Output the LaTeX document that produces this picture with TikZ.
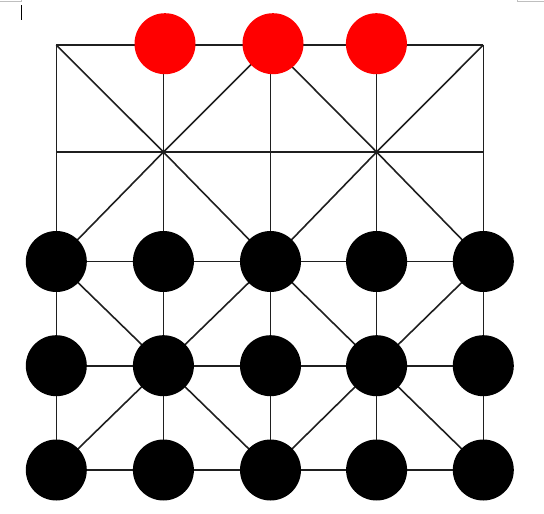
\documentclass[tikz,border=0pt]{standalone}
\begin{document}
\begin{tikzpicture}[x=1pt,y=-1pt,
  boardline/.style={line width=1.6pt,draw=black!88},
  blackstone/.style={circle,fill=black,inner sep=0pt,minimum size=61pt},
  redstone/.style={circle,fill=red,inner sep=0pt,minimum size=61pt},
  artifact/.style={line width=0.8pt,draw=black!25}]
\useasboundingbox (0,0) rectangle (544,514);
% grid coordinates
\foreach \c/\x in {0/56.3,1/163.4,2/270.5,3/376.6,4/483.3}{
  \foreach \r/\y in {0/45,1/152,2/261.5,3/365.7,4/470}{
    \coordinate (p-\c-\r) at (\x,\y);
  }
}
% screenshot artifacts
\coordinate (a1) at (0,1.5); \coordinate (a2) at (21,1.5); \coordinate (a3) at (21,0);
\draw[artifact] (a1) -- (a2) -- (a3);
\coordinate (b1) at (517.5,0); \coordinate (b2) at (517.5,1.5); \coordinate (b3) at (544,1.5);
\draw[artifact] (b1) -- (b2) -- (b3);
\coordinate (cur1) at (21.8,5); \coordinate (cur2) at (21.8,19.5);
\draw[line width=1.3pt,black] (cur1) -- (cur2);
% board lines
\foreach \i in {0,...,4}{
  \draw[boardline] (p-0-\i) -- (p-4-\i);
  \draw[boardline] (p-\i-0) -- (p-\i-4);
}
\draw[boardline] (p-0-0) -- (p-1-1) -- (p-2-2) -- (p-3-3) -- (p-4-4);
\draw[boardline] (p-4-0) -- (p-3-1) -- (p-2-2) -- (p-1-3) -- (p-0-4);
\draw[boardline] (p-2-0) -- (p-1-1) -- (p-0-2) -- (p-1-3) -- (p-2-4) -- (p-3-3) -- (p-4-2) -- (p-3-1) -- cycle;
% black stones
\foreach \c in {0,...,4}{
  \foreach \r in {2,3,4}{
    \node[blackstone] (s-\c-\r) at (p-\c-\r) {};
  }
}
% red stones
\node[redstone] (r1) at (165,43.7) {};
\node[redstone] (r2) at (273,43.7) {};
\node[redstone] (r3) at (376.4,43.7) {};
\end{tikzpicture}
\end{document}
